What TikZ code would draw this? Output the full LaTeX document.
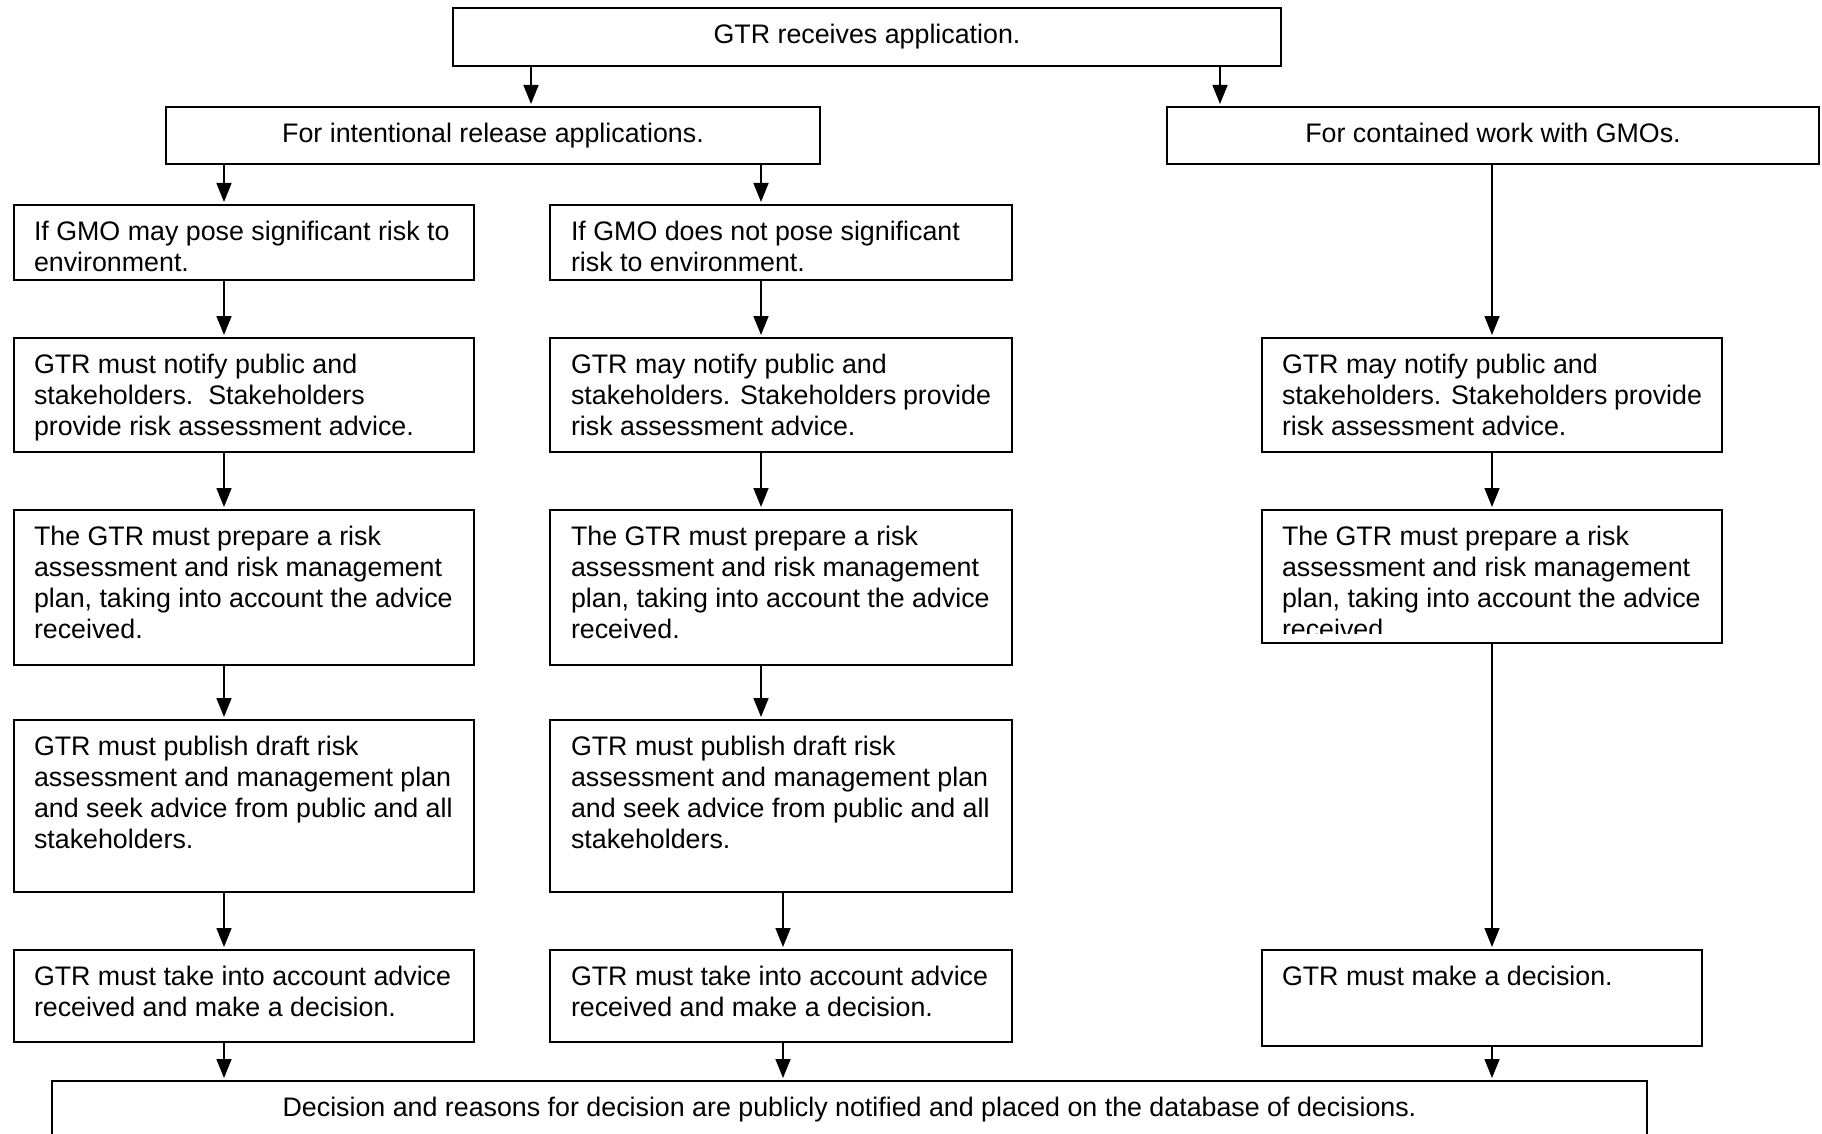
\documentclass[tikz,border=0pt]{standalone}
\usepackage{fontspec}
\setmainfont{Liberation Sans}
\usetikzlibrary{arrows.meta}
% top-aligned, ragged-right text block of fixed width and height
\newcommand\boxtxt[3]{\parbox[c][#2][t]{#1}{\raggedright\rule{0pt}{35pt}#3}}
\tikzset{
  stepbox/.style={draw, line width=2pt, inner xsep=20pt, inner ysep=0pt, outer sep=0pt, anchor=north west},
  headbox/.style={draw, line width=2pt, inner sep=0pt, outer sep=0pt, anchor=north west, align=center,
    text height=19pt, text depth=5pt},
  frame/.style={line width=2pt},
  flow/.style={line width=1.6pt, -{Triangle[length=19pt,width=15pt]}, shorten >=3pt},
  every node/.style={font=\fontsize{26.8}{31.3}\selectfont}
}
\begin{document}
\begin{tikzpicture}[x=1pt,y=-1pt]
\clip (0,0) rectangle (1822,1134);
\fill[white] (0,0) rectangle (1822,1134);

% heading boxes
\node[headbox, minimum width=828pt, minimum height=58pt] (recv) at (453,8) {GTR receives application.};
\node[headbox, minimum width=654pt, minimum height=57pt] (ir) at (166,107) {For intentional release applications.};
\node[headbox, minimum width=652pt, minimum height=57pt] (cw) at (1167,107) {For contained work with GMOs.};

% intentional release, significant risk
\node[stepbox] (b1) at (14,205) {\boxtxt{420pt}{75pt}{If GMO may pose significant risk to\\environment.}};
\node[stepbox] (b2) at (14,338) {\boxtxt{420pt}{114pt}{GTR must notify public and\\stakeholders.\ \ Stakeholders\\provide risk assessment advice.}};
\node[stepbox] (b3) at (14,510) {\boxtxt{420pt}{155pt}{The GTR must prepare a risk\\assessment and risk management\\plan, taking into account the advice\\received.}};
\node[stepbox] (b4) at (14,720) {\boxtxt{420pt}{172pt}{GTR must publish draft risk\\assessment and management plan\\and seek advice from public and all\\stakeholders.}};
\node[stepbox] (b5) at (14,950) {\boxtxt{420pt}{92pt}{GTR must take into account advice\\received and make a decision.}};

% intentional release, no significant risk
\tikzset{col2/.style={stepbox, inner xsep=21pt}}
\node[col2] (d1) at (550,205) {\boxtxt{420pt}{75pt}{If GMO does not pose significant\\risk to environment.}};
\node[col2] (d2) at (550,338) {\boxtxt{420pt}{114pt}{GTR may notify public and\\stakeholders. Stakeholders provide\\risk assessment advice.}};
\node[col2] (d3) at (550,510) {\boxtxt{420pt}{155pt}{The GTR must prepare a risk\\assessment and risk management\\plan, taking into account the advice\\received.}};
\node[col2] (d4) at (550,720) {\boxtxt{420pt}{172pt}{GTR must publish draft risk\\assessment and management plan\\and seek advice from public and all\\stakeholders.}};
\node[col2] (d5) at (550,950) {\boxtxt{420pt}{92pt}{GTR must take into account advice\\received and make a decision.}};

% contained work
\node[stepbox] (c2) at (1262,338) {\boxtxt{420pt}{114pt}{GTR may notify public and\\stakeholders. Stakeholders provide\\risk assessment advice.}};
% the last line of this box runs past its text area and is cut off
\begin{scope}
  \clip (1250,500) rectangle (1740,633);
  \node[stepbox, draw=none] (c3) at (1262,510) {\boxtxt{420pt}{133pt}{The GTR must prepare a risk\\assessment and risk management\\plan, taking into account the advice\\received.}};
\end{scope}
\draw[frame] (c3.north west) rectangle (c3.south east);
\node[stepbox] (c5) at (1262,950) {\boxtxt{400pt}{96pt}{GTR must make a decision.}};

% final box
\node[headbox, minimum width=1595pt, minimum height=56pt] (fin) at (52,1081) {Decision and reasons for decision are publicly notified and placed on the database of decisions.};

% connector columns
\coordinate (xt1) at (531,0);
\coordinate (xt2) at (1220,0);
\coordinate (xa) at (224,0);
\coordinate (xb) at (761,0);
\coordinate (xc) at (783,0);
\coordinate (xd) at (1492,0);

\draw[flow] (recv.south -| xt1) -- (ir.north -| xt1);
\draw[flow] (recv.south -| xt2) -- (cw.north -| xt2);
\draw[flow] (ir.south -| xa) -- (b1.north -| xa);
\draw[flow] (ir.south -| xb) -- (d1.north -| xb);

\draw[flow] (b1.south -| xa) -- (b2.north -| xa);
\draw[flow] (b2.south -| xa) -- (b3.north -| xa);
\draw[flow] (b3.south -| xa) -- (b4.north -| xa);
\draw[flow] (b4.south -| xa) -- (b5.north -| xa);
\draw[flow] (b5.south -| xa) -- (fin.north -| xa);

\draw[flow] (d1.south -| xb) -- (d2.north -| xb);
\draw[flow] (d2.south -| xb) -- (d3.north -| xb);
\draw[flow] (d3.south -| xb) -- (d4.north -| xb);
\draw[flow] (d4.south -| xc) -- (d5.north -| xc);
\draw[flow] (d5.south -| xc) -- (fin.north -| xc);

\draw[flow] (cw.south -| xd) -- (c2.north -| xd);
\draw[flow] (c2.south -| xd) -- (c3.north -| xd);
\draw[flow] (c3.south -| xd) -- (c5.north -| xd);
\draw[flow] (c5.south -| xd) -- (fin.north -| xd);
\end{tikzpicture}
\end{document}
